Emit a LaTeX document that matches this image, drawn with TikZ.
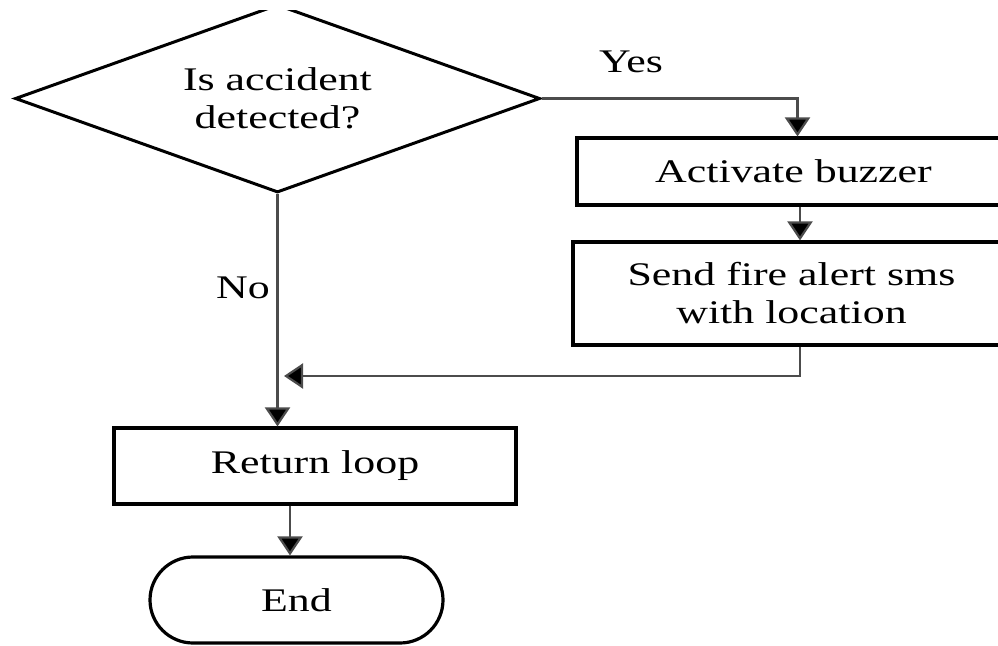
\documentclass[tikz,border=0pt]{standalone}
\usepackage{fontspec}
\setmainfont[FakeStretch=1.33]{Liberation Serif}
\usetikzlibrary{shapes.geometric,arrows.meta}
\begin{document}
\begin{tikzpicture}[x=1pt,y=-1pt,
  lbl/.style={font=\fontsize{33}{38}\selectfont, align=center, text=black},
  box/.style={draw, line width=3.2pt, rectangle, inner sep=0pt, lbl},
  conn/.style={line width=2.2pt, draw=black!70, -{Triangle[width=25pt,length=19pt,fill=black]}}
]
\useasboundingbox (0,0) rectangle (998,645);
\clip (0,0) rectangle (998,645);
\begin{scope}
\clip (0,10) rectangle (998,645);
\node[draw, diamond, line width=3pt, minimum width=525pt, minimum height=188pt, aspect=2.8, inner sep=0pt, lbl] (dec) at (277.5,98.5) {Is accident\\detected?};
\end{scope}
\node[box, minimum width=433pt, minimum height=67pt] (act) at (793.5,171.5) {Activate buzzer};
\node[box, minimum width=437pt, minimum height=103pt] (send) at (791.5,293.5) {Send fire alert sms\\with location};
\node[box, minimum width=402pt, minimum height=76pt] (ret) at (315,466) {Return loop};
\node[box, rounded corners=43pt, minimum width=293pt, minimum height=86pt] (end) at (296.5,600) {End};
\node[lbl] (yes) at (631,62) {Yes};
\node[lbl] (no) at (243,288) {No};
\coordinate (join) at (284,376);
\draw[conn] (dec.east) -| ([xshift=4pt]act.north);
\draw[conn] ([xshift=6.5pt]act.south) -- ([xshift=6.5pt]act.south |- send.north);
\draw[conn] (dec.south) -- (dec.south |- ret.north);
\draw[conn] ([xshift=8.5pt]send.south) |- (join);
\draw[conn] ([xshift=-25pt]ret.south) -- ([xshift=-25pt]ret.south |- end.north);
\end{tikzpicture}
\end{document}
